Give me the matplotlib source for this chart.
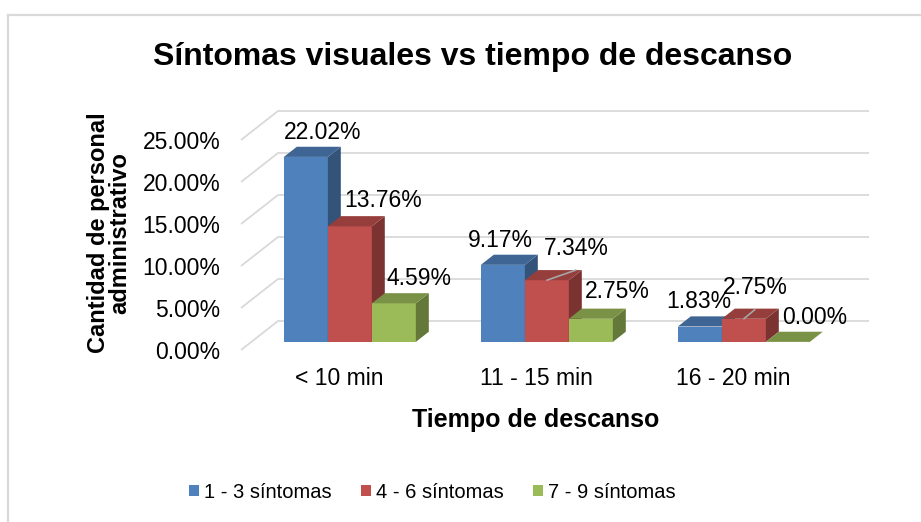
import matplotlib
matplotlib.use("Agg")
import matplotlib.pyplot as plt
import numpy as np
from matplotlib.patches import Polygon, Patch
from matplotlib.lines import Line2D
from matplotlib.colors import to_rgb

plt.rcParams['font.family'] = ['Liberation Sans', 'DejaVu Sans']

# ---------------- data ----------------
categories = ["< 10 min", "11 - 15 min", "16 - 20 min"]
series_names = ["1 - 3 síntomas", "4 - 6 síntomas", "7 - 9 síntomas"]
sintomas_1_3 = [22.02, 9.17, 1.83]
sintomas_4_6 = [13.76, 7.34, 2.75]
sintomas_7_9 = [4.59, 2.75, 0.00]
y_ticks = [0, 5, 10, 15, 20, 25]
title = "Síntomas visuales vs tiempo de descanso"
x_title = "Tiempo de descanso"
y_title_lines = ["Cantidad de personal", "administrativo"]

# ---------------- style / layout ----------------
colors = ["#4F81BD", "#C0504D", "#9BBB59"]
grid_color = "#D9D9D9"
W, H = 921, 522
# label offsets (pixels, from front-top-centre of each bar) and leader flags
label_offsets = [[(17, 24), (-2, 24.5), (-1, 25)],
                 [(33, 26), (29, 32), (11, 31)],
                 [(25, 25), (26, 27), (27, 24)]]
leaders = [[False, False, False],
           [False, True, True],
           [False, False, False]]

fig = plt.figure(figsize=(W / 100, H / 100), dpi=100)
fig.patch.set_facecolor("white")

# outer chart border (left and top visible)
fig.add_artist(Line2D([8 / W, 8 / W], [0, 1 - 15 / H], transform=fig.transFigure,
                      color=grid_color, lw=1.6))
fig.add_artist(Line2D([8 / W, 1], [1 - 15 / H, 1 - 15 / H], transform=fig.transFigure,
                      color=grid_color, lw=1.6))

ax_left, ax_right, ax_bottom, ax_top = 241, 832, 350, 140
ax = fig.add_axes([ax_left / W, (H - ax_bottom) / H, (ax_right - ax_left) / W,
                   (ax_bottom - ax_top) / H])
ax.set_xlim(-0.5, len(categories) - 0.5)
ax.set_ylim(0, 25)
ax.patch.set_visible(False)
for s in ax.spines.values():
    s.set_visible(False)

XU = (ax_right - ax_left) / 3.0     # px per x unit
YU = (ax_bottom - ax_top) / 25.0    # px per % unit
ddx = 37 / XU                       # full depth offset in data units
ddy = 29 / YU
f0 = 0.28                           # bar front depth fraction
fd = 0.35                           # bar depth fraction
bw = 44 / XU                        # bar width

# gridlines: left side wall + back wall
x0, x1 = -0.5, len(categories) - 0.5
for v in y_ticks:
    ax.plot([x0, x0 + ddx, x1 + ddx], [v, v + ddy, v + ddy], color=grid_color,
            lw=1.3, clip_on=False, zorder=1, solid_capstyle='butt')

def shade(c, f):
    r, g, b = to_rgb(c)
    return (r * f, g * f, b * f)

all_series = [sintomas_1_3, sintomas_4_6, sintomas_7_9]
ox, oy = f0 * ddx, f0 * ddy
bdx, bdy = fd * ddx, fd * ddy
for ci in range(len(categories)):
    for si, vals in enumerate(all_series):
        v = vals[ci]
        c = colors[si]
        xl = ci + (si - 1.5) * bw + ox
        xr = xl + bw
        yb = oy
        yt = oy + v
        front = Polygon([(xl, yb), (xr, yb), (xr, yt), (xl, yt)], closed=True,
                        facecolor=c, edgecolor='none', clip_on=False, zorder=3)
        side = Polygon([(xr, yb), (xr + bdx, yb + bdy), (xr + bdx, yt + bdy), (xr, yt)],
                       closed=True, facecolor=shade(c, 0.64), edgecolor='none',
                       clip_on=False, zorder=3)
        top = Polygon([(xl, yt), (xr, yt), (xr + bdx, yt + bdy), (xl + bdx, yt + bdy)],
                      closed=True, facecolor=shade(c, 0.78), edgecolor='none',
                      clip_on=False, zorder=3)
        ax.add_patch(front)
        ax.add_patch(side)
        ax.add_patch(top)

# data labels
for ci in range(len(categories)):
    for si, vals in enumerate(all_series):
        v = vals[ci]
        xc = ci + (si - 1) * bw + ox
        yt = oy + v
        dx, dy = label_offsets[si][ci]
        kw = {}
        if leaders[si][ci]:
            kw['arrowprops'] = dict(arrowstyle='-', color='#A6A6A6', lw=1.2,
                                    shrinkA=0, shrinkB=0, relpos=(0.5, -0.45))
        ax.annotate(f"{v:.2f}%", xy=(xc, yt), xytext=(dx, dy),
                    textcoords='offset pixels', ha='center', va='center',
                    fontsize=16.5, color='black', zorder=5, annotation_clip=False, **kw)

# ticks
ax.set_yticks(y_ticks)
ax.set_yticklabels([f"{t:.2f}%" for t in y_ticks])
ax.set_xticks(range(len(categories)))
ax.set_xticklabels(categories)
ax.tick_params(axis='y', length=0, pad=15, labelsize=16.5)
ax.tick_params(axis='x', length=0, pad=12.5, labelsize=16.5)

# titles
fig.text(473 / W, 1 - 57 / H, title, ha='center', va='center', fontsize=23,
         fontweight='bold')
fig.text(536 / W, 1 - 420 / H, x_title, ha='center', va='center', fontsize=18,
         fontweight='bold')
for line, xc in zip(y_title_lines, [99, 120]):
    fig.text(xc / W, 1 - 233 / H, line, ha='center', va='center', fontsize=17,
             fontweight='bold', rotation=90)

# legend
handles = [Patch(facecolor=c, edgecolor='none') for c in colors]
fig.legend(handles, series_names, loc='center', bbox_to_anchor=(432 / W, 1 - 492 / H),
           ncol=3, frameon=False, fontsize=14.5, handlelength=0.5, handleheight=0.5,
           handletextpad=0.25, columnspacing=1.45, borderpad=0, borderaxespad=0)

fig.savefig("out.png", dpi=100, facecolor="white")
